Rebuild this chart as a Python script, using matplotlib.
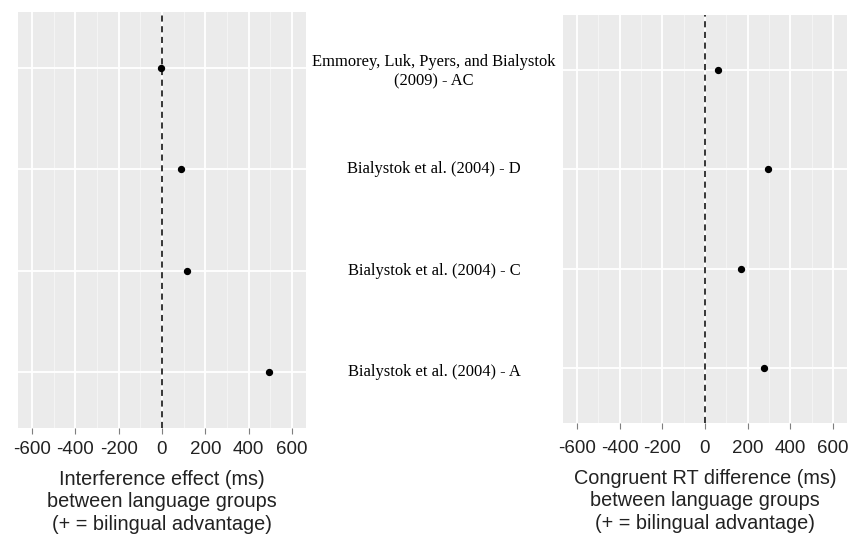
import numpy as np
import matplotlib.pyplot as plt
from matplotlib.ticker import MultipleLocator

studies = [
    "Emmorey, Luk, Pyers, and Bialystok\n(2009) - AC",
    "Bialystok et al. (2004) - D",
    "Bialystok et al. (2004) - C",
    "Bialystok et al. (2004) - A",
]
interference = [-3, 88, 115, 495]
congruent_rt = [62, 293, 167, 274]

left_title = "Interference effect (ms)\nbetween language groups\n(+ = bilingual advantage)"
right_title = "Congruent RT difference (ms)\nbetween language groups\n(+ = bilingual advantage)"

fig = plt.figure(figsize=(8.52, 5.35), dpi=100)
W, H = 852, 535

def panel(left, top, right, bottom):
    return fig.add_axes([left / W, 1 - bottom / H, (right - left) / W, (bottom - top) / H])

ax1 = panel(18, 12, 306, 428)
ax2 = panel(563, 15, 847, 423)


def style(ax, values, title, extra_pad=0):
    n = len(values)
    ypos = np.arange(n)[::-1]
    ax.set_facecolor("#EBEBEB")
    ax.set_xlim(-665, 665)
    ax.set_ylim(-0.55, n - 0.45)
    ax.xaxis.set_minor_locator(MultipleLocator(100))
    ax.set_yticks(ypos)
    ax.set_yticklabels([])
    ax.grid(which="major", color="white", lw=1.3)
    ax.grid(which="minor", axis="x", color="#F5F5F5", lw=0.7)
    ax.set_axisbelow(True)
    for s in ax.spines.values():
        s.set_visible(False)
    ax.tick_params(axis="y", length=0)
    ax.tick_params(axis="x", which="major", length=4, color="#7F7F7F",
                   pad=5 + extra_pad)
    ax.tick_params(axis="x", which="minor", length=0)
    ax.axvline(0, color="black", ls=(0, (4, 3)), lw=1.1)
    ax.scatter(values, ypos, s=18, color="black", zorder=3)
    ax.set_xlabel(title, fontsize=14.3, family="Liberation Sans", labelpad=9,
                  linespacing=1.22, color="#222222")
    ax.set_xticks(np.arange(-600, 601, 200))
    ax.set_xticklabels([f"{v:d}" for v in range(-600, 601, 200)],
                       family="Liberation Sans", fontsize=13.5, color="#222222")
    return ypos

ypos = style(ax1, interference, left_title)
style(ax2, congruent_rt, right_title, extra_pad=3)

# study names sit between the two panels, aligned to the left panel's rows
for name, y in zip(studies, ypos):
    ax1.annotate(name, xy=(1.0, y), xycoords=("axes fraction", "data"),
                 xytext=(434 - 306, 0 if "\n" not in name else -4),
                 textcoords="offset pixels", ha="center", va="center",
                 family="Liberation Serif", fontsize=11.9, linespacing=1.25)

fig.savefig("out.png", dpi=100)
